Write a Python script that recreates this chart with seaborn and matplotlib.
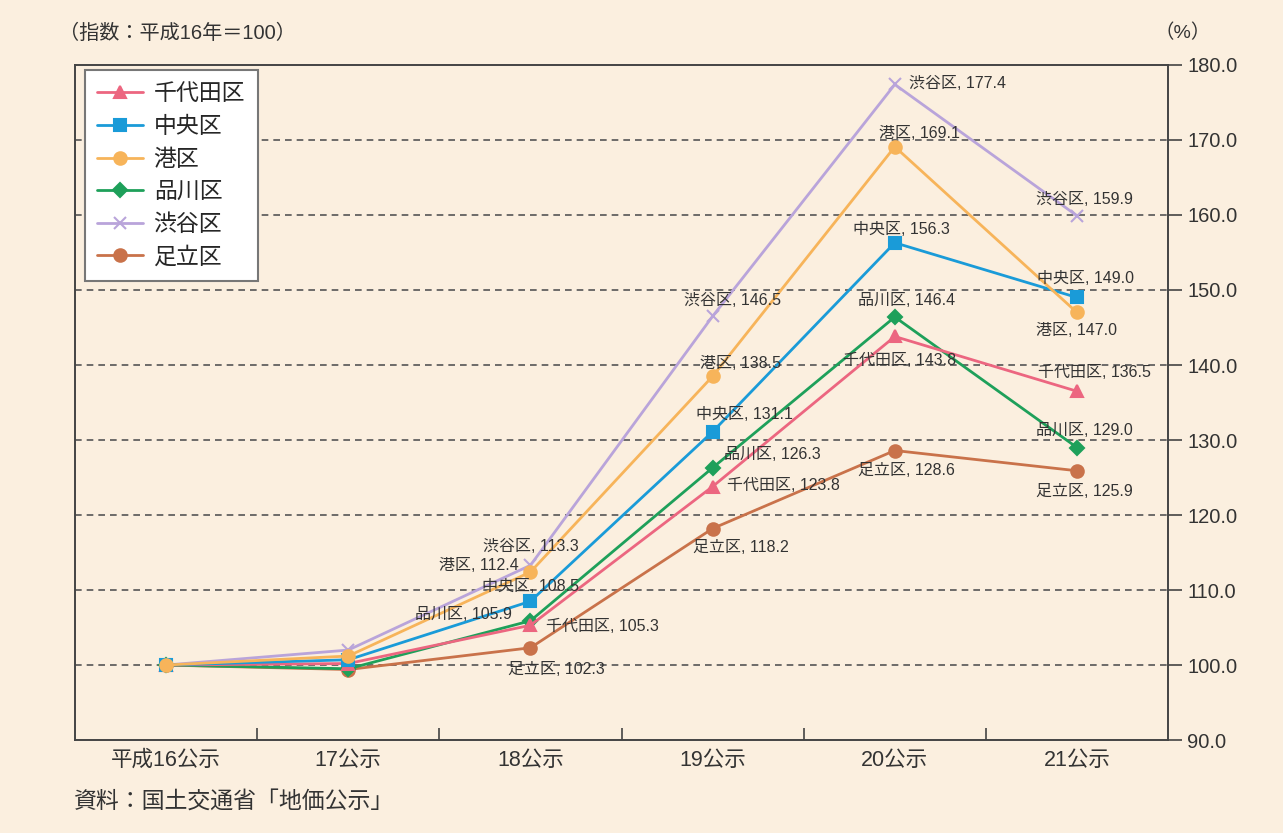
import matplotlib
matplotlib.use("Agg")
import matplotlib.pyplot as plt
import pandas as pd
import seaborn as sns

# 公示年（平成16年＝100 とした指数）
years = ["平成16公示", "17公示", "18公示", "19公示", "20公示", "21公示"]
wards = ["千代田区", "中央区", "港区", "品川区", "渋谷区", "足立区"]

chiyoda = [100.0, 100.2, 105.3, 123.8, 143.8, 136.5]
chuo = [100.0, 100.7, 108.5, 131.1, 156.3, 149.0]
minato = [100.0, 101.2, 112.4, 138.5, 169.1, 147.0]
shinagawa = [100.0, 99.5, 105.9, 126.3, 146.4, 129.0]
shibuya = [100.0, 102.0, 113.3, 146.5, 177.4, 159.9]
adachi = [100.0, 99.4, 102.3, 118.2, 128.6, 125.9]

y_ticks = [90, 100, 110, 120, 130, 140, 150, 160, 170, 180]

series = {
    "千代田区": chiyoda,
    "中央区": chuo,
    "港区": minato,
    "品川区": shinagawa,
    "渋谷区": shibuya,
    "足立区": adachi,
}

styles = {
    "千代田区": dict(color="#ec6680", marker="^", ms=9),
    "中央区": dict(color="#1a9bd8", marker="s", ms=8.5),
    "港区": dict(color="#f7b45a", marker="o", ms=9),
    "品川区": dict(color="#1ea05a", marker="D", ms=7),
    "渋谷区": dict(color="#b9a4da", marker="x", ms=8),
    "足立区": dict(color="#c9724a", marker="o", ms=9),
}

# 値ラベルの位置（点からのずれ、ピクセル）
label_offsets = {
    ("渋谷区", 2): (0, 19), ("港区", 2): (-52, 7), ("中央区", 2): (0, 15),
    ("品川区", 2): (-67, 6), ("千代田区", 2): (72, -1), ("足立区", 2): (26, -22),
    ("渋谷区", 3): (20, 16), ("港区", 3): (28, 13), ("中央区", 3): (32, 17),
    ("品川区", 3): (60, 13), ("千代田区", 3): (71, 1), ("足立区", 3): (28, -19),
    ("渋谷区", 4): (63, 1), ("港区", 4): (25, 13), ("中央区", 4): (7, 13),
    ("品川区", 4): (12, 17), ("千代田区", 4): (5, -24), ("足立区", 4): (12, -20),
    ("渋谷区", 5): (7, 16), ("中央区", 5): (9, 19), ("港区", 5): (0, -18),
    ("千代田区", 5): (17, 19), ("品川区", 5): (7, 17), ("足立区", 5): (7, -21),
}

bg = "#fbefdf"
ink = "#333333"

sns.set_theme(style="white")
plt.rcParams["font.family"] = ["Liberation Sans", "Noto Sans CJK JP", "DejaVu Sans"]

records = []
for w in wards:
    for i, v in enumerate(series[w]):
        records.append({"区": w, "x": i, "指数": v})
df = pd.DataFrame(records)

fig = plt.figure(figsize=(12.83, 8.33), dpi=100, facecolor=bg)
ax = fig.add_axes([0.0585, 0.1116, 0.8519, 0.8104])
ax.set_facecolor(bg)

draw_order = ["足立区", "渋谷区", "品川区", "千代田区", "中央区", "港区"]
for w in draw_order:
    st = styles[w]
    sub = df[df["区"] == w]
    sns.lineplot(
        data=sub, x="x", y="指数", ax=ax, color=st["color"], marker=st["marker"],
        markersize=st["ms"], markeredgecolor=st["color"], markeredgewidth=1.5,
        linewidth=2.0, label=w, sort=False,
    )

# 値ラベル
for (w, i), (dx, dy) in label_offsets.items():
    v = series[w][i]
    ax.annotate(f"{w}, {v:.1f}", xy=(i, v), xytext=(dx, dy),
                textcoords="offset pixels", ha="center", va="center",
                fontsize=11.5, color=ink)

ax.set_xlim(-0.5, 5.5)
ax.set_ylim(90, 180)

# 目盛線（100〜170 の破線）
for t in y_ticks[1:-1]:
    ax.axhline(t, color="#555555", lw=1.2, ls=(0, (4, 3)), zorder=0)

for side in ["left", "right", "top", "bottom"]:
    ax.spines[side].set_visible(True)
    ax.spines[side].set_color("#444444")
    ax.spines[side].set_linewidth(1.4)

ax.yaxis.tick_right()
ax.set_yticks(y_ticks)
ax.set_yticklabels([f"{t:.1f}" for t in y_ticks], fontsize=14.5, color=ink)
ax.tick_params(axis="y", direction="out", length=10, width=1.2, color="#444444",
               pad=4, right=True, left=False)

ax.set_xticks(range(len(years)))
ax.set_xticklabels(years, fontsize=15.5, color=ink)
ax.set_xticks([0.5, 1.5, 2.5, 3.5, 4.5], minor=True)
ax.tick_params(axis="x", which="major", length=0, pad=7)
ax.tick_params(axis="x", which="minor", direction="in", length=9, width=1.2,
               color="#444444", bottom=True)
ax.set_xlabel("")
ax.set_ylabel("")

handles, labels = ax.get_legend_handles_labels()
order = [labels.index(w) for w in wards]
leg = ax.legend([handles[k] for k in order], [labels[k] for k in order],
                loc="upper left", bbox_to_anchor=(0.009, 0.993), borderaxespad=0,
                fontsize=16.5, frameon=True, fancybox=False, edgecolor="#777777",
                facecolor="white", framealpha=1, handlelength=2.0,
                labelspacing=0.42, borderpad=0.55, handletextpad=0.45)
leg.get_frame().set_linewidth(1.5)

fig.text(0.046, 0.960, "（指数：平成16年＝100）", fontsize=14.5, color=ink,
         ha="left", va="center")
fig.text(0.922, 0.960, "（%）", fontsize=14, color=ink, ha="center", va="center")
fig.text(0.058, 0.038, "資料：国土交通省「地価公示」", fontsize=16.5, color=ink,
         ha="left", va="center")

fig.savefig("out.png", dpi=100, facecolor=bg)
